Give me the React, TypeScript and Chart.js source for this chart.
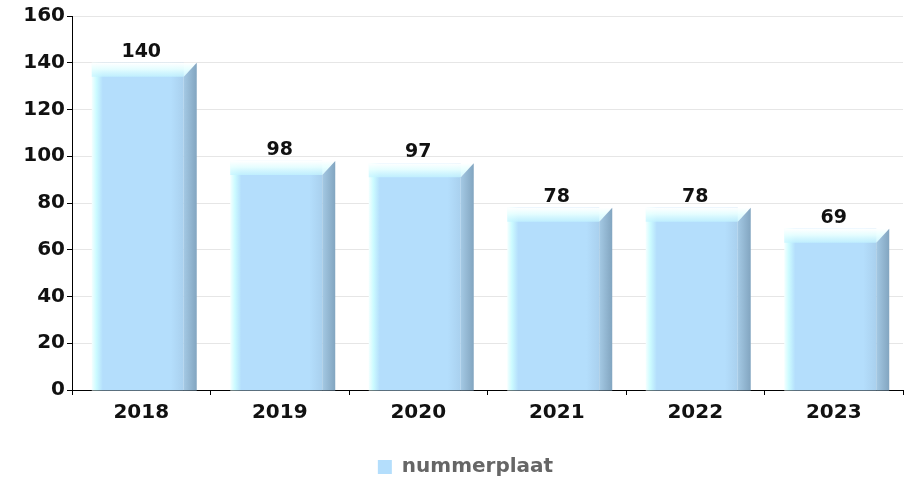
import React, { useEffect, useRef } from "react";
import { Chart, registerables } from "chart.js";

Chart.register(...registerables);

const categories: string[] = ["2018", "2019", "2020", "2021", "2022", "2023"];
const values: number[] = [140, 98, 97, 78, 78, 69];
const seriesName = "nummerplaat";
const yMin = 0;
const yMax = 160;
const yStep = 20;

const FONT = "'DejaVu Sans', 'Noto Sans', sans-serif";

const bar3d = {
  id: "bar3d",
  beforeDatasetDraw() {
    return false;
  },
  afterLayout(chart: any) {
    const lg = chart.legend;
    if (lg) {
      lg.top += 8;
      lg.bottom += 8;
      lg.left += 14;
      lg.right += 14;
    }
  },
  afterDatasetsDraw(chart: any) {
    const ctx: CanvasRenderingContext2D = chart.ctx;
    const meta = chart.getDatasetMeta(0);
    const ds = chart.data.datasets[0];
    meta.data.forEach((el: any, i: number) => {
      const { x, y, base, width } = el.getProps(["x", "y", "base", "width"], true);
      const L = x - width / 2 + 3;
      const SR = x + width / 2 + 3;
      const FR = SR - 13;
      const depth = 14;
      const bottom = base + 1;
      ctx.save();
      // front face
      const g = ctx.createLinearGradient(L, 0, FR, 0);
      g.addColorStop(0, "#f4ffff");
      g.addColorStop(0.05, "#ccfbff");
      g.addColorStop(0.12, "#b4defc");
      g.addColorStop(0.86, "#b4defc");
      g.addColorStop(1, "#a9d0ee");
      ctx.fillStyle = g;
      ctx.fillRect(L, y, FR - L, bottom - y);
      // top bevel
      const tg = ctx.createLinearGradient(0, y, 0, y + depth);
      tg.addColorStop(0, "rgba(255,255,255,1)");
      tg.addColorStop(0.45, "rgba(232,255,255,0.95)");
      tg.addColorStop(1, "rgba(196,244,255,0.75)");
      ctx.fillStyle = tg;
      ctx.beginPath();
      ctx.moveTo(L, y);
      ctx.lineTo(SR, y);
      ctx.lineTo(FR, y + depth);
      ctx.lineTo(L, y + depth);
      ctx.closePath();
      ctx.fill();
      // side
      const sg = ctx.createLinearGradient(FR, 0, SR, 0);
      sg.addColorStop(0, "#a4c9e4");
      sg.addColorStop(1, "#82a5c0");
      ctx.fillStyle = sg;
      ctx.beginPath();
      ctx.moveTo(FR, y + depth);
      ctx.lineTo(SR, y);
      ctx.lineTo(SR, bottom);
      ctx.lineTo(FR, bottom);
      ctx.closePath();
      ctx.fill();
      // value label
      ctx.fillStyle = "#111";
      ctx.font = `bold 19px ${FONT}`;
      ctx.textAlign = "center";
      ctx.textBaseline = "alphabetic";
      ctx.fillText(String(ds.data[i]), x, y - 6);
      ctx.restore();
    });
  },
};

export default function App() {
  const ref = useRef<HTMLCanvasElement>(null);
  useEffect(() => {
    const chart = new Chart(ref.current as HTMLCanvasElement, {
      type: "bar",
      data: {
        labels: categories,
        datasets: [
          {
            label: seriesName,
            data: values,
            backgroundColor: "#b4defc",
            borderWidth: 0,
            barPercentage: 0.758,
            categoryPercentage: 1,
          },
        ],
      },
      options: {
        responsive: false,
        animation: false,
        layout: { padding: { top: 16, right: 12, bottom: 0, left: 0 } },
        plugins: {
          legend: {
            position: "bottom",
            labels: {
              boxWidth: 14,
              boxHeight: 14,
              color: "#666",
              font: { family: FONT, size: 20, weight: "bold" },
              padding: 10,
            },
          },
          tooltip: { enabled: false },
        },
        scales: {
          x: {
            offset: true,
            grid: {
              drawOnChartArea: false,
              tickColor: "#000",
              tickLength: 5,
              offset: true,
            },
            border: { display: true, color: "#000", width: 1 },
            ticks: {
              color: "#111",
              font: { family: FONT, size: 20, weight: "bold" },
              padding: 6,
            },
            afterFit: (s: any) => {
              s.height = 49;
            },
          },
          y: {
            min: yMin,
            max: yMax,
            ticks: {
              stepSize: yStep,
              color: "#111",
              font: { family: FONT, size: 20, weight: "bold" },
              padding: 2,
            },
            grid: { color: "#e6e6e6", tickColor: "#000", tickLength: 5 },
            border: { display: true, color: "#000", width: 1 },
            afterFit: (s: any) => {
              s.width = 72;
            },
          },
        },
      },
      plugins: [bar3d],
    });
    return () => chart.destroy();
  }, []);
  return (
    <div style={{ position: "absolute", left: 0, top: 0, width: 915, height: 479, background: "#fff" }}>
      <canvas ref={ref} width={915} height={479} style={{ display: "block" }} />
    </div>
  );
}
